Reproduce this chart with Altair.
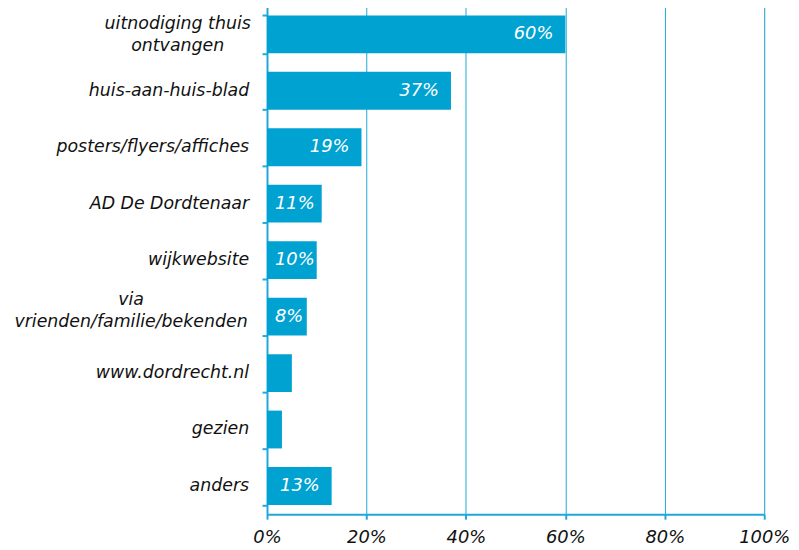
import altair as alt
import pandas as pd

categories = [
    "uitnodiging thuis|ontvangen",
    "huis-aan-huis-blad",
    "posters/flyers/affiches",
    "AD De Dordtenaar",
    "wijkwebsite",
    "via|vrienden/familie/bekenden",
    "www.dordrecht.nl",
    "gezien",
    "anders",
]
values = [60, 37, 19, 11, 10, 8, 5, 3, 13]
x_ticks = [0, 20, 40, 60, 80, 100]

df = pd.DataFrame({"cat": categories, "val": values})

BAR = "#00a2d2"
LINE = "#1fa8dc"
FONT = "DejaVu Sans"
TXT = "#111111"

y_scale = alt.Scale(paddingInner=0.33, paddingOuter=0.165)

y_enc = alt.Y(
    "cat:N",
    sort=categories,
    title=None,
    scale=y_scale,
    axis=alt.Axis(
        labels=False,
        tickBand="extent",
        tickSize=5,
        tickColor=LINE,
        tickWidth=2,
        domainColor=LINE,
        domainWidth=2,
        grid=False,
    ),
)

x_enc = alt.X(
    "val:Q",
    title=None,
    scale=alt.Scale(domain=[0, 100]),
    axis=alt.Axis(
        values=x_ticks,
        labelExpr="datum.value + '%'",
        labelFont=FONT,
        labelFontStyle="italic",
        labelFontSize=18,
        labelColor=TXT,
        labelPadding=10,
        labelFlush=False,
        labelOverlap=False,
        tickSize=5,
        tickColor=LINE,
        tickWidth=2,
        domainColor=LINE,
        domainWidth=2,
        grid=True,
        gridColor=LINE,
        gridWidth=1,
    ),
)

y_plain = alt.Y("cat:N", sort=categories)

bars = alt.Chart(df).mark_bar(color=BAR).encode(y=y_enc, x=x_enc)

big_labels = (
    alt.Chart(df)
    .transform_filter("datum.val >= 13")
    .transform_calculate(lab="datum.val + '%'")
    .mark_text(
        align="right", baseline="middle", dx=-12, color="white",
        font=FONT, fontStyle="italic", fontSize=18,
    )
    .encode(y=y_plain, x="val:Q", text="lab:N")
)

small_labels = (
    alt.Chart(df)
    .transform_filter("datum.val >= 8 && datum.val < 13")
    .transform_calculate(lab="datum.val + '%'", zero="0")
    .mark_text(
        align="left", baseline="middle", dx=8, color="white",
        font=FONT, fontStyle="italic", fontSize=18,
    )
    .encode(y=y_plain, x="zero:Q", text="lab:N")
)

cat_text = dict(font=FONT, fontStyle="italic", fontSize=17.5, color=TXT,
                baseline="middle", lineBreak="|", lineHeight=22)

cat_single = (
    alt.Chart(df)
    .transform_filter("indexof(datum.cat, '|') < 0")
    .mark_text(align="right", **cat_text)
    .encode(y=y_plain, x=alt.value(-18), text="cat:N")
)

cat_multi_a = (
    alt.Chart(df)
    .transform_filter("indexof(datum.cat, 'uitnodiging') >= 0")
    .mark_text(align="center", dy=-10, **cat_text)
    .encode(y=y_plain, x=alt.value(-90), text="cat:N")
)

cat_multi_b = (
    alt.Chart(df)
    .transform_filter("indexof(datum.cat, 'via|') >= 0")
    .mark_text(align="center", dy=-17, **cat_text)
    .encode(y=y_plain, x=alt.value(-137), text="cat:N")
)

chart = (
    alt.layer(bars, big_labels, small_labels, cat_single, cat_multi_a, cat_multi_b)
    .properties(
        width=501,
        height=512,
        autosize=alt.AutoSizeParams(type="none"),
        padding={"left": 261, "top": -4, "right": 27, "bottom": 36},
    )
    .configure_view(stroke=None)
    .configure(background="white")
)

chart.save("out.html", embed_options={"renderer": "svg", "actions": False})
